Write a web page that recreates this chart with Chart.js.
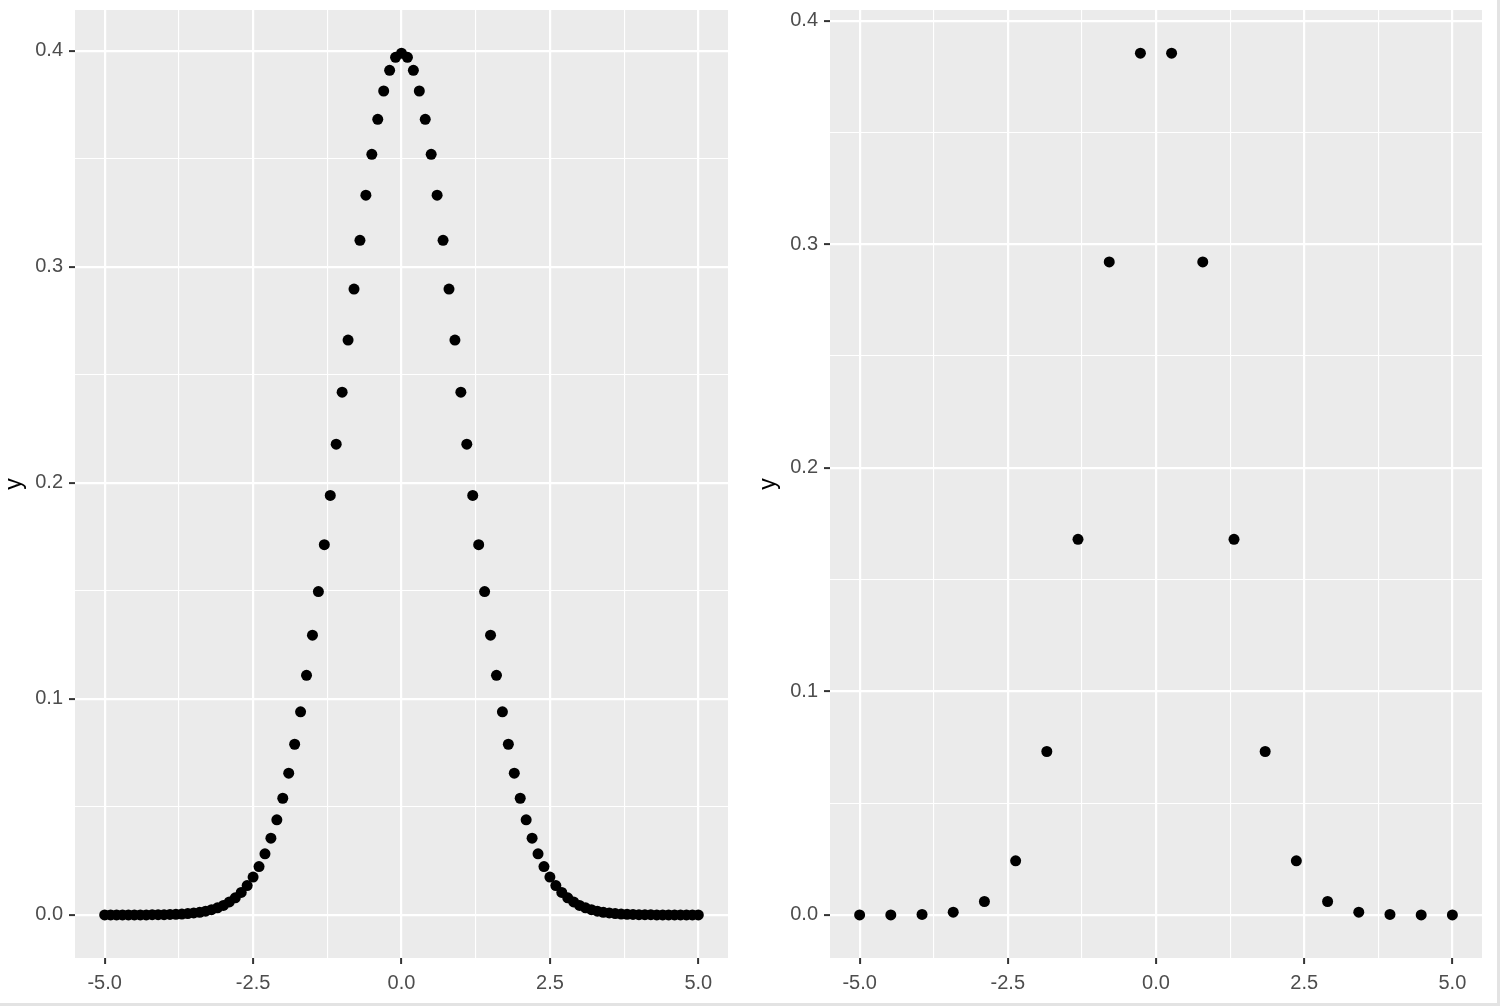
<!DOCTYPE html>
<html>
<head>
<meta charset="utf-8">
<script src="https://cdn.jsdelivr.net/npm/chart.js@4.4.0/dist/chart.umd.min.js"></script>
<style>
  html, body { margin: 0; padding: 0; background: #fff; overflow: hidden; }
  #frame { position: relative; width: 1500px; height: 1006px; }
  .panel { position: absolute; top: 0; height: 1006px; }
  #leftWrap { left: 0; width: 740px; }
  #rightWrap { left: 740px; width: 760px; }
  #edge { position: absolute; left: 0; top: 0; width: 1497px; height: 1003px;
          border-right: 3px solid #e3e3e3; border-bottom: 3px solid #e3e3e3; pointer-events: none; }
</style>
</head>
<body>
<div id="frame">
  <div class="panel" id="leftWrap"><canvas id="leftChart"></canvas></div>
  <div class="panel" id="rightWrap"><canvas id="rightChart"></canvas></div>
  <div id="edge"></div>
</div>
<script>
// --- data: left panel (fine grid) ---
const xLeft = [
  -5.0, -4.9, -4.8, -4.7, -4.6, -4.5, -4.4, -4.3, -4.2, -4.1,
  -4.0, -3.9, -3.8, -3.7, -3.6, -3.5, -3.4, -3.3, -3.2, -3.1,
  -3.0, -2.9, -2.8, -2.7, -2.6, -2.5, -2.4, -2.3, -2.2, -2.1,
  -2.0, -1.9, -1.8, -1.7, -1.6, -1.5, -1.4, -1.3, -1.2, -1.1,
  -1.0, -0.9, -0.8, -0.7, -0.6, -0.5, -0.4, -0.3, -0.2, -0.1,
  0.0,
  0.1, 0.2, 0.3, 0.4, 0.5, 0.6, 0.7, 0.8, 0.9, 1.0,
  1.1, 1.2, 1.3, 1.4, 1.5, 1.6, 1.7, 1.8, 1.9, 2.0,
  2.1, 2.2, 2.3, 2.4, 2.5, 2.6, 2.7, 2.8, 2.9, 3.0,
  3.1, 3.2, 3.3, 3.4, 3.5, 3.6, 3.7, 3.8, 3.9, 4.0,
  4.1, 4.2, 4.3, 4.4, 4.5, 4.6, 4.7, 4.8, 4.9, 5.0
];
const yLeft = [
  0.0000, 0.0000, 0.0000, 0.0000, 0.0000, 0.0000, 0.0000, 0.0000, 0.0001, 0.0001,
  0.0001, 0.0002, 0.0003, 0.0004, 0.0006, 0.0009, 0.0012, 0.0017, 0.0024, 0.0033,
  0.0044, 0.0060, 0.0079, 0.0104, 0.0136, 0.0175, 0.0224, 0.0283, 0.0355, 0.0440,
  0.0540, 0.0656, 0.0790, 0.0940, 0.1109, 0.1295, 0.1497, 0.1714, 0.1942, 0.2179,
  0.2420, 0.2661, 0.2897, 0.3123, 0.3332, 0.3521, 0.3683, 0.3814, 0.3910, 0.3970,
  0.3989,
  0.3970, 0.3910, 0.3814, 0.3683, 0.3521, 0.3332, 0.3123, 0.2897, 0.2661, 0.2420,
  0.2179, 0.1942, 0.1714, 0.1497, 0.1295, 0.1109, 0.0940, 0.0790, 0.0656, 0.0540,
  0.0440, 0.0355, 0.0283, 0.0224, 0.0175, 0.0136, 0.0104, 0.0079, 0.0060, 0.0044,
  0.0033, 0.0024, 0.0017, 0.0012, 0.0009, 0.0006, 0.0004, 0.0003, 0.0002, 0.0001,
  0.0001, 0.0001, 0.0000, 0.0000, 0.0000, 0.0000, 0.0000, 0.0000, 0.0000, 0.0000
];

// --- data: right panel (coarse grid) ---
const xRight = [
  -5.000, -4.474, -3.947, -3.421, -2.895, -2.368, -1.842, -1.316, -0.789, -0.263,
  0.263, 0.789, 1.316, 1.842, 2.368, 2.895, 3.421, 3.947, 4.474, 5.000
];
const yRight = [
  0.0000, 0.0000, 0.0002, 0.0012, 0.0060, 0.0242, 0.0731, 0.1680, 0.2921, 0.3855,
  0.3855, 0.2921, 0.1680, 0.0731, 0.0242, 0.0060, 0.0012, 0.0002, 0.0000, 0.0000
];

// --- ticks ---
const xMajor = [-5, -2.5, 0, 2.5, 5];
const xMinor = [-3.75, -1.25, 1.25, 3.75];
const yMajor = [0, 0.1, 0.2, 0.3, 0.4];
const yMinor = [0.05, 0.15, 0.25, 0.35];

const isMajor = (list, v) => list.some(m => Math.abs(m - v) < 1e-9);

// grey panel background behind the grid
const panelBg = {
  id: 'panelBg',
  beforeDraw(chart) {
    const { ctx, chartArea: a } = chart;
    ctx.save();
    ctx.fillStyle = '#EBEBEB';
    ctx.fillRect(a.left, a.top, a.right - a.left, a.bottom - a.top);
    ctx.restore();
  }
};

const tickFont = { family: '"Liberation Sans", Arial, sans-serif', size: 20, lineHeight: 1.0 };

const makeChart = (id, xs, ys, yRange, yAxisWidth, padding) => {
  const ctx = document.getElementById(id).getContext('2d');
  const gridFor = (list) => ({
    color: '#FFFFFF',
    lineWidth: c => isMajor(list, c.tick.value) ? 2.2 : 1.1,
    tickColor: c => isMajor(list, c.tick.value) ? '#333333' : 'rgba(0,0,0,0)',
    tickWidth: 2,
    tickLength: 6,
    drawTicks: true
  });
  return new Chart(ctx, {
    type: 'scatter',
    data: {
      datasets: [{
        data: xs.map((x, i) => ({ x: x, y: ys[i] })),
        backgroundColor: '#000000',
        borderColor: '#000000',
        pointRadius: 5.5,
        pointHoverRadius: 5.5,
        borderWidth: 0
      }]
    },
    options: {
      responsive: true,
      maintainAspectRatio: false,
      animation: false,
      layout: { padding: padding },
      plugins: { legend: { display: false }, tooltip: { enabled: false } },
      scales: {
        x: {
          type: 'linear',
          min: -5.5,
          max: 5.5,
          afterBuildTicks: s => { s.ticks = xMajor.concat(xMinor).sort((a, b) => a - b).map(v => ({ value: v })); },
          afterFit: s => { s.height = 48; s.paddingLeft = 0; s.paddingRight = 0; },
          grid: gridFor(xMajor),
          border: { display: false },
          ticks: {
            autoSkip: false, maxRotation: 0, padding: 9,
            color: '#4D4D4D', font: tickFont,
            callback: v => isMajor(xMajor, v) ? v.toFixed(1) : ''
          }
        },
        y: {
          type: 'linear',
          min: yRange[0],
          max: yRange[1],
          afterBuildTicks: s => { s.ticks = yMajor.concat(yMinor).sort((a, b) => a - b).map(v => ({ value: v })); },
          afterFit: s => { s.width = yAxisWidth; s.paddingTop = 0; s.paddingBottom = 0; },
          grid: gridFor(yMajor),
          border: { display: false },
          title: {
            display: true, text: 'y', color: '#000000',
            font: { family: '"Liberation Sans", Arial, sans-serif', size: 23, lineHeight: 1.1 },
            padding: { top: 2, bottom: 0 }
          },
          ticks: {
            autoSkip: false, padding: 6,
            color: '#4D4D4D', font: tickFont,
            callback: v => isMajor(yMajor, v) ? v.toFixed(1) : ''
          }
        }
      }
    },
    plugins: [panelBg]
  });
};

document.addEventListener('DOMContentLoaded', () => {
  makeChart('leftChart', xLeft, yLeft, [-0.01995, 0.4189], 75,
    { top: 10, right: 12, bottom: 0, left: 0 });
  makeChart('rightChart', xRight, yRight, [-0.01928, 0.4048], 76,
    { top: 10, right: 18, bottom: 0, left: 14 });
});
</script>
</body>
</html>
